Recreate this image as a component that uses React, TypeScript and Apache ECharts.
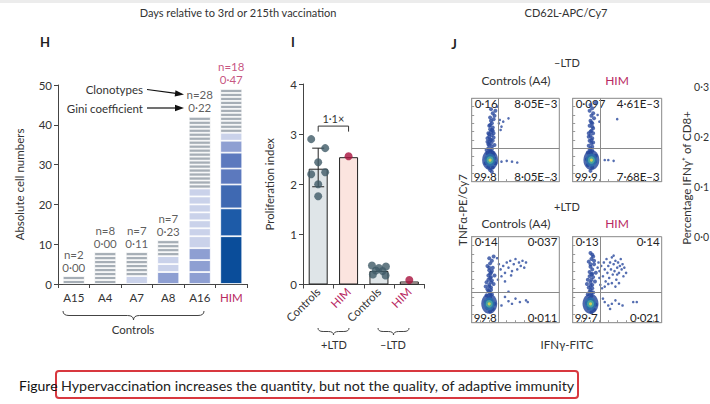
import React, { useEffect, useRef } from "react";
import * as echarts from "echarts";

// ---------------- Panel H data ----------------
const H_DONORS = ["A15", "A4", "A7", "A8", "A16", "HIM"];
const H_CLONE_N = [2, 8, 7, 7, 28, 18];
const H_GINI = ["0·00", "0·00", "0·11", "0·23", "0·22", "0·47"];
const H_CLONES_A15 = [1, 1];
const H_CLONES_A4 = [1, 1, 1, 1, 1, 1, 1, 1];
const H_CLONES_A7 = [2, 1, 1, 1, 1, 1, 1];
const H_CLONES_A8 = [3, 2, 2, 1, 1, 1, 1];
const H_CLONES_A16 = [3, 3, 3, 3, 2, 2, 2, 2, 2, 2, 1, 1, 1, 1, 1, 1, 1, 1, 1, 1, 1, 1, 1, 1, 1, 1, 1, 1];
const H_CLONES_HIM = [12, 7, 6, 4, 4, 3, 2, 1, 1, 1, 1, 1, 1, 1, 1, 1, 1, 1];
const H_Y_TICKS = [0, 10, 20, 30, 40, 50];

// ---------------- Panel I data ----------------
const I_CATS = ["Controls+", "HIM+", "Controls-", "HIM-"];
const I_MEANS = [2.31, 2.54, 0.27, 0.06];
const I_CTRL_POS = [2.9, 2.72, 2.44, 2.2, 2.24, 2.0, 1.76];
const I_CTRL_POS_JITTER = [-0.23, 0.23, 0, -0.23, 0.23, 0, 0];
const I_CTRL_NEG = [0.38, 0.33, 0.36, 0.28, 0.27, 0.2, 0.18];
const I_CTRL_NEG_JITTER = [-0.23, 0, 0.23, -0.1, 0.12, -0.2, 0.22];
const I_HIM_POS = [2.56];
const I_HIM_NEG = [0.09];
const I_ERR = [1.95, 2.72];
const I_FOLD = "1·1×";

// ---------------- Panel J data (percent of plot range) ----------------
const FLOW_CTRL_NEG = [
  [20, 30], [22, 32], [18, 34], [24, 35], [21, 38], [19, 40], [23, 42], [20, 44], [22, 46], [18, 48],
  [24, 49], [21, 51], [20, 54], [23, 56], [19, 58], [22, 60], [21, 63], [24, 65], [20, 67], [23, 70],
  [22, 73], [25, 75], [21, 77], [26, 79], [24, 82], [27, 85], [22, 87], [25, 33], [17, 28], [26, 28],
  [16, 22], [27, 22], [19, 18], [24, 17], [21, 14], [23, 12], [18, 52], [25, 58], [17, 38], [26, 44],
  [21, 36], [23, 39], [19, 45], [22, 50], [20, 57], [24, 61], [21, 68], [23, 62], [20, 48], [25, 53],
  [34, 66], [31, 70], [32, 74], [36, 72], [42, 76], [29, 90], [34, 24], [40, 25], [46, 24], [52, 23], [33, 62],
];
const FLOW_HIM_NEG = [
  [19, 30], [21, 33], [17, 35], [22, 37], [20, 40], [18, 43], [21, 46], [19, 49], [22, 52], [20, 55],
  [18, 58], [21, 61], [23, 64], [19, 67], [22, 70], [20, 73], [24, 76], [21, 79], [23, 82], [19, 85],
  [22, 88], [20, 92], [24, 29], [16, 27], [25, 24], [17, 20], [22, 17], [20, 13], [26, 31], [23, 58],
  [20, 35], [22, 42], [19, 38], [21, 50], [23, 47], [20, 60], [22, 66], [18, 54], [21, 71],
  [30, 72], [28, 80], [50, 75], [36, 26], [40, 26], [46, 25], [26, 95],
];
const FLOW_CTRL_POS = [
  [19, 28], [21, 30], [17, 32], [23, 33], [20, 36], [18, 39], [22, 41], [20, 44], [17, 47], [23, 49],
  [21, 52], [19, 55], [22, 58], [20, 61], [24, 64], [18, 66], [21, 69], [23, 72], [20, 75], [25, 77],
  [22, 26], [16, 24], [26, 22], [18, 17], [24, 16], [21, 13], [25, 45], [26, 55], [16, 42],
  [21, 34], [19, 37], [22, 38], [20, 42], [22, 47], [19, 50], [21, 57], [23, 60], [20, 64], [22, 53],
  [33, 62], [36, 66], [38, 58], [40, 70], [42, 64], [44, 72], [46, 60], [48, 68], [50, 74], [52, 62],
  [54, 70], [56, 66], [58, 72], [60, 64], [34, 54], [45, 55], [38, 48], [62, 70], [30, 50], [31, 68], [29, 75],
  [38, 30], [42, 25], [46, 22], [50, 28], [55, 24], [62, 26], [64, 24], [42, 36], [34, 20],
];
const FLOW_HIM_POS = [
  [19, 28], [21, 31], [17, 33], [23, 35], [20, 38], [18, 41], [22, 44], [20, 47], [17, 50], [23, 53],
  [21, 56], [19, 59], [22, 62], [20, 65], [24, 68], [18, 71], [21, 74], [23, 77], [20, 81], [22, 25],
  [16, 23], [26, 21], [18, 17], [24, 15], [21, 12], [25, 48], [26, 58], [16, 45], [24, 72],
  [21, 35], [19, 36], [22, 40], [20, 43], [21, 50], [19, 54], [22, 57], [20, 68], [22, 79],
  [30, 60], [32, 66], [34, 54], [35, 70], [36, 62], [37, 48], [38, 74], [39, 58], [40, 66], [41, 52],
  [42, 70], [43, 62], [44, 76], [45, 56], [46, 68], [47, 60], [48, 72], [49, 50], [50, 64], [51, 70],
  [52, 58], [53, 66], [54, 74], [55, 62], [56, 68], [57, 54], [58, 64], [31, 44], [33, 40], [36, 42],
  [40, 45], [44, 46], [48, 42], [52, 46], [29, 70], [30, 52], [28, 64], [60, 58], [46, 78], [50, 56],
  [36, 24], [40, 20], [44, 22], [48, 26], [52, 22], [68, 24], [72, 24], [34, 28], [56, 20], [42, 16],
];
const FLOW_CORE = [[21, 26], [21, 26], [20, 22], [20, 22]];
const FLOW_GATES = [[30, 40], [31, 40], [30, 35], [31, 35]];
const FLOW_LABELS = [
  ["0·16", "8·05E–3", "99·8", "8·05E–3"],
  ["0·097", "4·61E–3", "99·9", "7·68E–3"],
  ["0·14", "0·037", "99·8", "0·011"],
  ["0·13", "0·14", "99·7", "0·021"],
];
const RIGHT_TICKS = ["0·3", "0·2", "0·1", "0·0"];

// ---------------- styles ----------------
const FONT = "Lato, 'Open Sans', sans-serif";
const TXT = "#333";
const CRIMSON = "#b8285f";
const DOT_CRIMSON = "#a8103c";
const H_PALETTE = ["#a6aeb6", "#cad2ea", "#8e9fd2", "#5c79be", "#3f69b2", "#1d5ba8", "#0a4d9a"];
const H_TIERS = [[], [], [1], [2, 1, 1], [2, 2, 2, 1, 1, 1, 1, 1, 1, 1], [6, 5, 4, 3, 3, 2, 1]];
const I_FILL = ["#dfe5e8", "#fbe4df", "#dfe5e8", "#fbe4df"];
const FLOW_BOXES = [
  { left: 471.7, top: 98.3, width: 87.6, height: 83.4 },
  { left: 572.7, top: 98.3, width: 89, height: 83.4 },
  { left: 471.7, top: 236.7, width: 87.6, height: 86 },
  { left: 572.7, top: 236.7, width: 89, height: 86 },
];

function bracePath(w: number, h: number) {
  const r = Math.min(6, w / 6);
  const m = h / 2;
  return `M0 0 Q0 ${m} ${r} ${m} L${w / 2 - r} ${m} Q${w / 2} ${m} ${w / 2} ${h} Q${w / 2} ${m} ${w / 2 + r} ${m} L${w - r} ${m} Q${w} ${m} ${w} 0`;
}

function txt(text: string, x: number, y: number, extra: any = {}, elExtra: any = {}) {
  return {
    type: "text",
    x,
    y,
    silent: true,
    ...elExtra,
    style: {
      text,
      fill: TXT,
      fontSize: 11.5,
      fontFamily: FONT,
      align: "center",
      verticalAlign: "middle",
      ...extra,
    },
  };
}

export default function App() {
  const ref = useRef<HTMLDivElement>(null);

  useEffect(() => {
    if (!ref.current) return;
    echarts.graphic.registerShape("braceH", echarts.graphic.extendPath(bracePath(141, 9), {}) as any);
    echarts.graphic.registerShape("braceI", echarts.graphic.extendPath(bracePath(31, 7), {}) as any);
    const chart = echarts.init(ref.current, undefined, { renderer: "svg" });

    const H_ALL = [H_CLONES_A15, H_CLONES_A4, H_CLONES_A7, H_CLONES_A8, H_CLONES_A16, H_CLONES_HIM];
    const maxSeg = Math.max(...H_ALL.map((a) => a.length));
    const series: any[] = [];
    for (let k = 0; k < maxSeg; k++) {
      series.push({
        type: "bar",
        xAxisIndex: 0,
        yAxisIndex: 0,
        stack: "h",
        barWidth: 22,
        silent: true,
        itemStyle: { borderColor: "#fff", borderWidth: 0.8 },
        data: H_ALL.map((arr, i) =>
          k < arr.length
            ? { value: arr[k], itemStyle: { color: H_PALETTE[H_TIERS[i][k] ?? 0] } }
            : "-"
        ),
      });
    }
    series.push({
      type: "scatter",
      xAxisIndex: 0,
      yAxisIndex: 0,
      symbolSize: 1,
      silent: true,
      itemStyle: { color: "rgba(0,0,0,0)" },
      label: {
        show: true,
        position: "top",
        distance: 2,
        fontSize: 11.5,
        lineHeight: 13,
        fontFamily: FONT,
        formatter: (p: any) => `n=${H_CLONE_N[p.dataIndex]}\n${H_GINI[p.dataIndex]}`,
      },
      data: H_ALL.map((a, i) => ({
        value: [i, a.reduce((s, v) => s + v, 0)],
        label: { color: H_DONORS[i] === "HIM" ? CRIMSON : TXT },
      })),
    });

    // Panel I
    series.push({
      type: "bar",
      xAxisIndex: 1,
      yAxisIndex: 1,
      barWidth: 19,
      silent: true,
      z: 2,
      itemStyle: { borderColor: "#222", borderWidth: 1 },
      data: I_MEANS.map((v, i) => ({ value: v, itemStyle: { color: I_FILL[i] } })),
    });
    series.push({
      type: "custom",
      xAxisIndex: 1,
      yAxisIndex: 1,
      silent: true,
      z: 3,
      data: [[0, I_ERR[0], I_ERR[1]]],
      renderItem: (_p: any, api: any) => {
        const lo = api.coord([api.value(0), api.value(1)]);
        const hi = api.coord([api.value(0), api.value(2)]);
        const w = 6;
        const st = { stroke: "#222", lineWidth: 1 };
        return {
          type: "group",
          children: [
            { type: "line", shape: { x1: hi[0], y1: hi[1], x2: lo[0], y2: lo[1] }, style: st },
            { type: "line", shape: { x1: hi[0] - w, y1: hi[1], x2: hi[0] + w, y2: hi[1] }, style: st },
            { type: "line", shape: { x1: lo[0] - w, y1: lo[1], x2: lo[0] + w, y2: lo[1] }, style: st },
          ],
        };
      },
    });
    series.push({
      type: "custom",
      xAxisIndex: 1,
      yAxisIndex: 1,
      silent: true,
      z: 3,
      data: [[0, 1, 3.05, 3.16]],
      renderItem: (_p: any, api: any) => {
        const a = api.coord([api.value(0), api.value(3)]);
        const b = api.coord([api.value(1), api.value(3)]);
        const aLo = api.coord([api.value(0), api.value(2)]);
        const st = { stroke: "#333", lineWidth: 1, fill: "none" };
        return {
          type: "group",
          children: [
            {
              type: "polyline",
              shape: { points: [[a[0], aLo[1]], [a[0], a[1]], [b[0], b[1]], [b[0], aLo[1]]] },
              style: st,
            },
            {
              type: "text",
              x: (a[0] + b[0]) / 2,
              y: a[1] - 8,
              style: { text: I_FOLD, fontSize: 11, fontFamily: FONT, fill: TXT, align: "center", verticalAlign: "middle" },
            },
          ],
        };
      },
    });
    const dot = (color: string) => ({
      type: "scatter",
      xAxisIndex: 2,
      yAxisIndex: 1,
      symbolSize: 8,
      silent: true,
      z: 5,
      itemStyle: { color },
    });
    series.push({ ...dot("#3e5a67"), data: I_CTRL_POS.map((v, i) => [0.5 + I_CTRL_POS_JITTER[i], v]) });
    series.push({ ...dot("#3e5a67"), data: I_CTRL_NEG.map((v, i) => [2.5 + I_CTRL_NEG_JITTER[i], v]) });
    series.push({ ...dot(DOT_CRIMSON), data: I_HIM_POS.map((v) => [1.5, v]) });
    series.push({ ...dot(DOT_CRIMSON), data: I_HIM_NEG.map((v) => [3.5, v]) });

    // Panel J
    const FLOW_DATA = [FLOW_CTRL_NEG, FLOW_HIM_NEG, FLOW_CTRL_POS, FLOW_HIM_POS];
    const coreLayers = [
      { size: [16, 20], color: "#22449a" },
      { size: [11, 13], color: "#2c72ad" },
      { size: [7, 7.5], color: "#4fb39a" },
      { size: [3.2, 3.2], color: "#eed84a" },
    ];
    FLOW_DATA.forEach((pts, p) => {
      series.push({
        type: "scatter",
        xAxisIndex: 3 + p,
        yAxisIndex: 2 + p,
        symbolSize: (v: number[]) => (v[0] < 28 ? 4 : 2.6),
        silent: true,
        itemStyle: { color: "#2a4a9e" },
        data: pts,
        markLine: {
          silent: true,
          symbol: "none",
          label: { show: false },
          lineStyle: { color: "#8a8a8a", width: 1, type: "solid" },
          data: [{ xAxis: FLOW_GATES[p][0] }, { yAxis: FLOW_GATES[p][1] }],
        },
      });
      coreLayers.forEach((l, li) => {
        series.push({
          type: "scatter",
          xAxisIndex: 3 + p,
          yAxisIndex: 2 + p,
          symbolSize: l.size,
          silent: true,
          z: 3 + li,
          itemStyle: { color: l.color },
          data: [FLOW_CORE[p]],
        });
      });
    });

    const axisBase = {
      axisLine: { show: true, lineStyle: { color: "#444", width: 1 } },
      axisTick: { show: true, length: 4, lineStyle: { color: "#444" } },
      axisLabel: { color: TXT, fontSize: 11.5, fontFamily: FONT },
      splitLine: { show: false },
    };
    const flowAxis = (gridIndex: number) => ({
      type: "value",
      gridIndex,
      min: 0,
      max: 100,
      interval: 10,
      axisLine: { show: true, lineStyle: { color: "#999" } },
      axisTick: { show: true, inside: true, length: 2.5, lineStyle: { color: "#999" } },
      axisLabel: { show: false },
      splitLine: { show: false },
    });

    const graphic: any[] = [
      { type: "rect", shape: { x: 0, y: 0, width: 710, height: 3 }, style: { fill: "#ececec" }, silent: true },
      txt("Days relative to 3rd or 215th vaccination", 238, 12, { fontSize: 11 }),
      txt("CD62L-APC/Cy7", 566, 12, { fontSize: 11 }),
      txt("H", 45, 42, { fontSize: 13, fontWeight: "bold", fill: "#222" }),
      txt("I", 293, 42, { fontSize: 13, fontWeight: "bold", fill: "#222" }),
      txt("J", 454, 44, { fontSize: 13, fontWeight: "bold", fill: "#222" }),
      txt("Clonotypes", 143, 89, { align: "right" }),
      txt("Gini coefficient", 143, 108, { align: "right" }),
      { type: "line", shape: { x1: 147, y1: 89.5, x2: 176, y2: 93.4 }, style: { stroke: "#111", lineWidth: 1.2 }, silent: true },
      { type: "polygon", shape: { points: [[184, 94.5], [174.7, 96.6], [175.5, 90.2]] }, style: { fill: "#111" }, silent: true },
      { type: "line", shape: { x1: 147, y1: 108, x2: 176, y2: 108 }, style: { stroke: "#111", lineWidth: 1.2 }, silent: true },
      { type: "polygon", shape: { points: [[184, 108], [175, 104.8], [175, 111.2]] }, style: { fill: "#111" }, silent: true },
      { type: "braceH", x: 63, y: 311, style: { stroke: "#444", fill: "none", lineWidth: 1 }, silent: true },
      txt("Controls", 133, 329),
      { type: "braceI", x: 318, y: 328, style: { stroke: "#444", fill: "none", lineWidth: 1 }, silent: true },
      { type: "braceI", x: 378, y: 328, style: { stroke: "#444", fill: "none", lineWidth: 1 }, silent: true },
      txt("+LTD", 334, 344, { fontSize: 11 }),
      txt("–LTD", 393, 344, { fontSize: 11 }),
      txt("–LTD", 567, 62, { fontSize: 11 }),
      txt("Controls (A4)", 516, 80, { fontSize: 12 }),
      txt("HIM", 617, 80, { fontSize: 12, fill: CRIMSON }),
      txt("+LTD", 567, 206, { fontSize: 11 }),
      txt("Controls (A4)", 516, 223, { fontSize: 12 }),
      txt("HIM", 617, 223, { fontSize: 12, fill: CRIMSON }),
      txt("IFNγ-FITC", 567, 344, { fontSize: 11.5 }),
      txt("TNFα-PE/Cy7", 462, 210, { fontSize: 11.5 }, { rotation: Math.PI / 2 }),
      txt("Percentage IFNγ⁺ of CD8+", 686, 178, { fontSize: 11.5 }, { rotation: Math.PI / 2 }),
      ...RIGHT_TICKS.map((t, i) => txt(t, 709, 87 + i * 50, { align: "right", fontSize: 10.5 })),
      { type: "rect", shape: { x: 56, y: 371, width: 522, height: 27, r: 3 }, style: { fill: "none", stroke: "#d8383f", lineWidth: 2 }, silent: true },
      txt("Figure", 19, 385, { align: "left", fontSize: 14, fill: "#111", fontFamily: "Lato, sans-serif" }),
      txt("Hypervaccination increases the quantity, but not the quality, of adaptive immunity", 61, 385, {
        align: "left",
        fontSize: 14.3,
        fill: "#222",
        fontFamily: "Lato, sans-serif",
      }),
    ];
    FLOW_BOXES.forEach((b, p) => {
      const [tl, tr, bl, br] = FLOW_LABELS[p];
      const st = { fontSize: 11.5, fill: "#222" };
      graphic.push(txt(tl, b.left + 3, b.top + 5, { ...st, align: "left" }));
      graphic.push(txt(tr, b.left + b.width - 2, b.top + 5, { ...st, align: "right" }));
      graphic.push(txt(bl, b.left + 2, b.top + b.height - 5, { ...st, align: "left" }));
      graphic.push(txt(br, b.left + b.width - 2, b.top + b.height - 5, { ...st, align: "right" }));
    });

    const option: any = {
      animation: false,
      backgroundColor: "#fff",
      textStyle: { fontFamily: FONT },
      grid: [
        { left: 58, top: 85, width: 189, height: 199 },
        { left: 303, top: 84, width: 121.5, height: 200.5 },
        ...FLOW_BOXES.map((b) => ({ ...b, show: true, borderColor: "#888", borderWidth: 1, backgroundColor: "#fff" })),
      ],
      xAxis: [
        {
          ...axisBase,
          type: "category",
          gridIndex: 0,
          data: H_DONORS,
          axisLabel: {
            ...axisBase.axisLabel,
            interval: 0,
            margin: 7,
            formatter: (v: string) => (v === "HIM" ? `{h|${v}}` : v),
            rich: { h: { color: CRIMSON, fontSize: 11.5, fontFamily: FONT } },
          },
        },
        {
          ...axisBase,
          type: "category",
          gridIndex: 1,
          data: I_CATS,
          axisLabel: {
            ...axisBase.axisLabel,
            interval: 0,
            rotate: 45,
            margin: 5,
            formatter: (v: string) => (v.startsWith("HIM") ? "{h|HIM}" : "{c|Controls}"),
            rich: {
              h: { color: CRIMSON, fontSize: 11.5, fontFamily: FONT },
              c: { color: TXT, fontSize: 11.5, fontFamily: FONT },
            },
          },
        },
        { type: "value", gridIndex: 1, min: 0, max: 4, show: false },
        ...FLOW_BOXES.map((_, i) => flowAxis(2 + i)),
      ],
      yAxis: [
        {
          ...axisBase,
          type: "value",
          gridIndex: 0,
          min: H_Y_TICKS[0],
          max: H_Y_TICKS[H_Y_TICKS.length - 1],
          interval: 10,
          axisLabel: { ...axisBase.axisLabel, margin: 6 },
          name: "Absolute cell numbers",
          nameLocation: "middle",
          nameGap: 33,
          nameTextStyle: { color: TXT, fontSize: 11.5, fontFamily: FONT },
        },
        {
          ...axisBase,
          type: "value",
          gridIndex: 1,
          min: 0,
          max: 4,
          interval: 1,
          axisLabel: { ...axisBase.axisLabel, margin: 6 },
          name: "Proliferation index",
          nameLocation: "middle",
          nameGap: 28,
          nameTextStyle: { color: TXT, fontSize: 11.5, fontFamily: FONT },
        },
        ...FLOW_BOXES.map((_, i) => flowAxis(2 + i)),
      ],
      series,
      graphic,
    };
    chart.setOption(option);
    return () => chart.dispose();
  }, []);

  return (
    <div
      ref={ref}
      style={{ position: "absolute", left: 0, top: 0, width: 710, height: 404, background: "#fff" }}
    />
  );
}
